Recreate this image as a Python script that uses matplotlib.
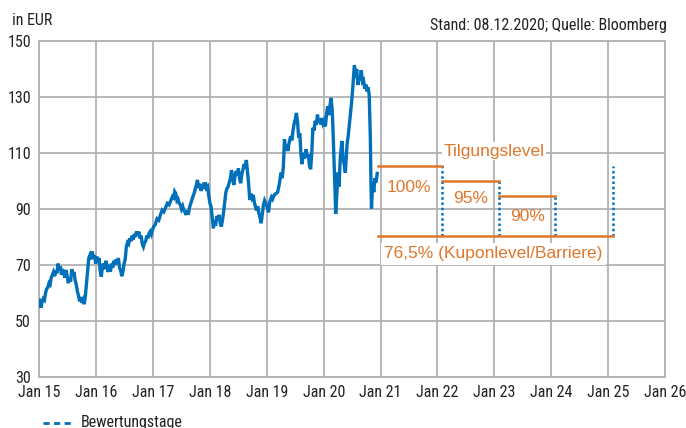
import matplotlib.pyplot as plt
from matplotlib.lines import Line2D
from matplotlib import font_manager

# price history (decimal years, EUR)
dates_15 = [2015.00, 2015.01, 2015.02, 2015.03, 2015.05, 2015.07, 2015.09, 2015.11, 2015.13, 2015.15,
            2015.17, 2015.19, 2015.21, 2015.23, 2015.25, 2015.27, 2015.29, 2015.31, 2015.33, 2015.35,
            2015.37, 2015.39, 2015.41, 2015.43, 2015.45, 2015.47, 2015.49, 2015.51, 2015.53, 2015.55,
            2015.57, 2015.59, 2015.61, 2015.63, 2015.65, 2015.67, 2015.69, 2015.71, 2015.73, 2015.75,
            2015.77, 2015.79, 2015.81, 2015.83, 2015.85, 2015.87, 2015.89, 2015.91, 2015.93, 2015.95,
            2015.97, 2015.99]
price_15 = [57.5, 55.0, 56.5, 54.8, 57.0, 58.0, 57.5, 60.0, 61.5, 62.0,
            63.5, 63.0, 65.5, 66.5, 67.5, 66.0, 68.0, 67.0, 70.5, 68.0,
            69.5, 66.5, 68.5, 67.0, 65.5, 68.2, 66.0, 63.5, 65.5, 64.0,
            68.5, 66.5, 67.5, 64.5, 63.0, 60.5, 59.0, 57.0, 58.5, 56.5,
            57.5, 56.0, 59.0, 63.5, 68.0, 72.5, 73.5, 72.0, 74.8, 72.5,
            73.5, 70.5]
dates_16 = [2016.01, 2016.03, 2016.05, 2016.07, 2016.09, 2016.11, 2016.13, 2016.15, 2016.17, 2016.19,
            2016.21, 2016.23, 2016.25, 2016.27, 2016.29, 2016.31, 2016.33, 2016.35, 2016.37, 2016.39,
            2016.41, 2016.43, 2016.45, 2016.47, 2016.49, 2016.51, 2016.53, 2016.55, 2016.57, 2016.59,
            2016.61, 2016.63, 2016.65, 2016.67, 2016.69, 2016.71, 2016.73, 2016.75, 2016.77, 2016.79,
            2016.81, 2016.83, 2016.85, 2016.87, 2016.89, 2016.91, 2016.93, 2016.95, 2016.97, 2016.99]
price_16 = [73.0, 71.0, 72.5, 68.0, 65.8, 69.5, 70.5, 68.5, 71.5, 70.0,
            67.5, 70.0, 67.6, 70.5, 69.0, 71.5, 70.0, 72.0, 70.5, 72.5,
            69.0, 68.0, 66.0, 67.5, 70.5, 72.0, 76.5, 78.0, 77.5, 79.5,
            78.5, 80.5, 79.0, 81.0, 80.0, 82.0, 80.5, 81.9, 79.5, 80.5,
            77.5, 76.5, 78.0, 78.5, 80.5, 79.5, 81.4, 82.0, 81.0, 82.5]
dates_17 = [2017.01, 2017.04, 2017.07, 2017.10, 2017.13, 2017.16, 2017.19, 2017.22, 2017.25, 2017.28,
            2017.31, 2017.34, 2017.36, 2017.38, 2017.40, 2017.42, 2017.44, 2017.46, 2017.48, 2017.50,
            2017.52, 2017.54, 2017.56, 2017.58, 2017.60, 2017.62, 2017.64, 2017.67, 2017.70, 2017.72,
            2017.74, 2017.76, 2017.78, 2017.80, 2017.82, 2017.84, 2017.86, 2017.88, 2017.90, 2017.92,
            2017.94, 2017.96, 2017.98]
price_17 = [83.7, 84.5, 86.5, 86.0, 88.0, 89.6, 89.0, 90.5, 92.0, 91.5,
            93.0, 94.4, 94.0, 96.2, 95.5, 93.0, 93.5, 92.0, 91.5, 90.0,
            91.0, 89.5, 89.0, 87.9, 89.5, 88.0, 90.5, 92.5, 94.4, 95.5,
            97.0, 98.5, 100.4, 97.5, 99.0, 96.5, 97.4, 98.5, 98.0, 99.5,
            97.5, 98.0, 94.5]
dates_18 = [2018.00, 2018.02, 2018.04, 2018.06, 2018.08, 2018.10, 2018.12, 2018.14, 2018.16, 2018.18,
            2018.20, 2018.22, 2018.24, 2018.26, 2018.28, 2018.30, 2018.32, 2018.34, 2018.36, 2018.38,
            2018.40, 2018.42, 2018.44, 2018.46, 2018.48, 2018.50, 2018.52, 2018.54, 2018.56, 2018.58,
            2018.60, 2018.62, 2018.64, 2018.66, 2018.68, 2018.70, 2018.72, 2018.74, 2018.76, 2018.78,
            2018.80, 2018.82, 2018.84, 2018.86, 2018.88, 2018.90, 2018.92, 2018.94, 2018.96]
price_18 = [92.0, 90.8, 87.0, 83.1, 86.0, 84.0, 87.5, 86.0, 87.9, 85.0,
            83.7, 86.0, 89.0, 92.5, 96.0, 97.4, 98.0, 99.5, 101.0, 103.9,
            100.5, 98.6, 101.5, 103.5, 102.0, 104.5, 101.0, 99.2, 102.5, 104.0,
            106.0, 104.5, 107.5, 103.3, 99.0, 93.2, 95.5, 94.0, 95.0, 92.5,
            90.8, 89.5, 91.0, 88.5, 87.0, 84.9, 88.0, 91.5, 93.0]
dates_19 = [2019.00, 2019.03, 2019.05, 2019.08, 2019.10, 2019.13, 2019.16, 2019.19, 2019.22, 2019.25,
            2019.27, 2019.29, 2019.31, 2019.33, 2019.35, 2019.37, 2019.39, 2019.42, 2019.44, 2019.46,
            2019.48, 2019.50, 2019.52, 2019.54, 2019.56, 2019.58, 2019.60, 2019.62, 2019.64, 2019.66,
            2019.69, 2019.71, 2019.73, 2019.75, 2019.77, 2019.79, 2019.81, 2019.83, 2019.85, 2019.87,
            2019.89, 2019.91, 2019.93, 2019.95, 2019.97, 2019.99]
price_19 = [91.0, 88.8, 92.5, 94.2, 93.5, 95.0, 95.5, 96.0, 99.0, 103.0,
            101.0, 105.0, 114.9, 111.0, 113.0, 110.7, 113.5, 116.0, 114.5, 118.0,
            120.5, 122.0, 124.3, 121.0, 115.5, 117.0, 109.5, 106.0, 110.0, 108.0,
            111.3, 108.5, 109.5, 105.4, 104.2, 110.0, 119.0, 118.0, 121.5, 120.0,
            123.7, 121.0, 122.0, 120.2, 122.5, 120.5]
dates_20 = [2020.01, 2020.03, 2020.05, 2020.07, 2020.09, 2020.11, 2020.13, 2020.15, 2020.16, 2020.18,
            2020.20, 2020.21, 2020.23, 2020.25, 2020.27, 2020.29, 2020.32, 2020.34, 2020.36, 2020.38,
            2020.41, 2020.43, 2020.45, 2020.47, 2020.49, 2020.51, 2020.53, 2020.54, 2020.56, 2020.58,
            2020.60, 2020.62, 2020.64, 2020.66, 2020.68, 2020.70, 2020.72, 2020.74, 2020.76, 2020.78,
            2020.80, 2020.82, 2020.83, 2020.84, 2020.86, 2020.88, 2020.90, 2020.92, 2020.94]
price_20 = [121.4, 119.5, 124.0, 126.7, 123.5, 127.0, 129.7, 125.0, 120.0, 108.0,
            96.0, 88.2, 95.0, 103.0, 98.0, 108.0, 114.3, 108.0, 105.9, 103.0,
            113.0, 116.0, 120.0, 123.7, 128.0, 133.0, 139.0, 141.4, 137.0, 140.0,
            134.3, 137.0, 136.0, 139.6, 135.5, 136.0, 133.0, 134.5, 132.0, 133.5,
            130.7, 115.0, 100.0, 90.2, 99.8, 96.0, 101.0, 99.5, 102.7]

dates = dates_15 + dates_16 + dates_17 + dates_18 + dates_19 + dates_20
prices = price_15 + price_16 + price_17 + price_18 + price_19 + price_20
assert len(dates) == len(prices)

# redemption schedule
start = 2020.95
obs_dates = [2022.08, 2023.08, 2024.07, 2025.08]
level_pcts = ['100%', '95%', '90%']
levels = [105.2, 99.9, 94.7]
barrier = 80.5

xticks = [2015, 2016, 2017, 2018, 2019, 2020, 2021, 2022, 2023, 2024, 2025, 2026]
xlabels = ['Jan 15', 'Jan 16', 'Jan 17', 'Jan 18', 'Jan 19', 'Jan 20',
           'Jan 21', 'Jan 22', 'Jan 23', 'Jan 24', 'Jan 25', 'Jan 26']
yticks = [30, 50, 70, 90, 110, 130, 150]

BLUE = '#0070ba'
ORANGE = '#e07628'
GRID = '#b2b2b4'
TXT = '#222222'

names = {f.name for f in font_manager.fontManager.ttflist}
narrow = [n for n in ['Liberation Sans Narrow', 'DejaVu Sans Condensed', 'Roboto Condensed',
                      'Open Sans Condensed'] if n in names]
plt.rcParams['font.family'] = narrow[:1] + ['DejaVu Sans']

fig = plt.figure(figsize=(6.86, 4.28), dpi=100)
ax = fig.add_axes([0.0573, 0.1192, 0.9121, 0.785])

ax.plot(dates, prices, color=BLUE, lw=2.4, zorder=3, solid_joinstyle='miter')

# Tilgungslevel steps
edges = [start] + obs_dates[:3]
for i in range(3):
    ax.plot([edges[i], edges[i + 1]], [levels[i], levels[i]], color=ORANGE, lw=1.8, zorder=3)
ax.plot([start, obs_dates[-1]], [barrier, barrier], color=ORANGE, lw=1.8, zorder=3)

# Bewertungstage
tops = levels + [levels[0]]
for d, t in zip(obs_dates, tops):
    ax.plot([d, d], [barrier, t], color=BLUE, lw=1.8, ls=(0, (1, 1.1)), zorder=2)

lbl = dict(color=ORANGE, family=['Liberation Sans', 'DejaVu Sans'], fontsize=12.5,
           ha='center', va='center')
ax.text(2023.0, 110.6, 'Tilgungslevel', bbox=dict(fc='white', ec='none', pad=1), zorder=4, **lbl)
ax.text(2021.5, 97.8, level_pcts[0], **lbl)
ax.text(2022.58, 93.6, level_pcts[1], **lbl)
ax.text(2023.58, 87.3, level_pcts[2], **lbl)
ax.text(2022.98, 74.0, '76,5% (Kuponlevel/Barriere)', bbox=dict(fc='white', ec='none', pad=2.5),
        zorder=4, **lbl)

ax.set_xlim(2015, 2026)
ax.set_ylim(30, 150)
ax.set_xticks(xticks)
ax.set_xticklabels(xlabels)
ax.set_yticks(yticks)
ax.grid(True, color=GRID, lw=1.3, zorder=0)
ax.set_axisbelow(True)
for s in ax.spines.values():
    s.set_color(GRID)
    s.set_linewidth(1.3)
ax.tick_params(length=0, labelsize=11.5, colors=TXT, pad=6)

fig.text(0.0175, 0.953, 'in EUR', fontsize=11.5, color=TXT, va='center')
fig.text(0.972, 0.941, 'Stand: 08.12.2020; Quelle: Bloomberg', fontsize=11.5, color=TXT,
         ha='right', va='center')
fig.add_artist(Line2D([0.062, 0.106], [0.0117, 0.0117], color=BLUE, lw=2, ls=(0, (2.2, 1.6))))
fig.text(0.118, 0.0117, 'Bewertungstage', fontsize=11.5, color=TXT, va='center')

fig.savefig('out.png', dpi=100)
